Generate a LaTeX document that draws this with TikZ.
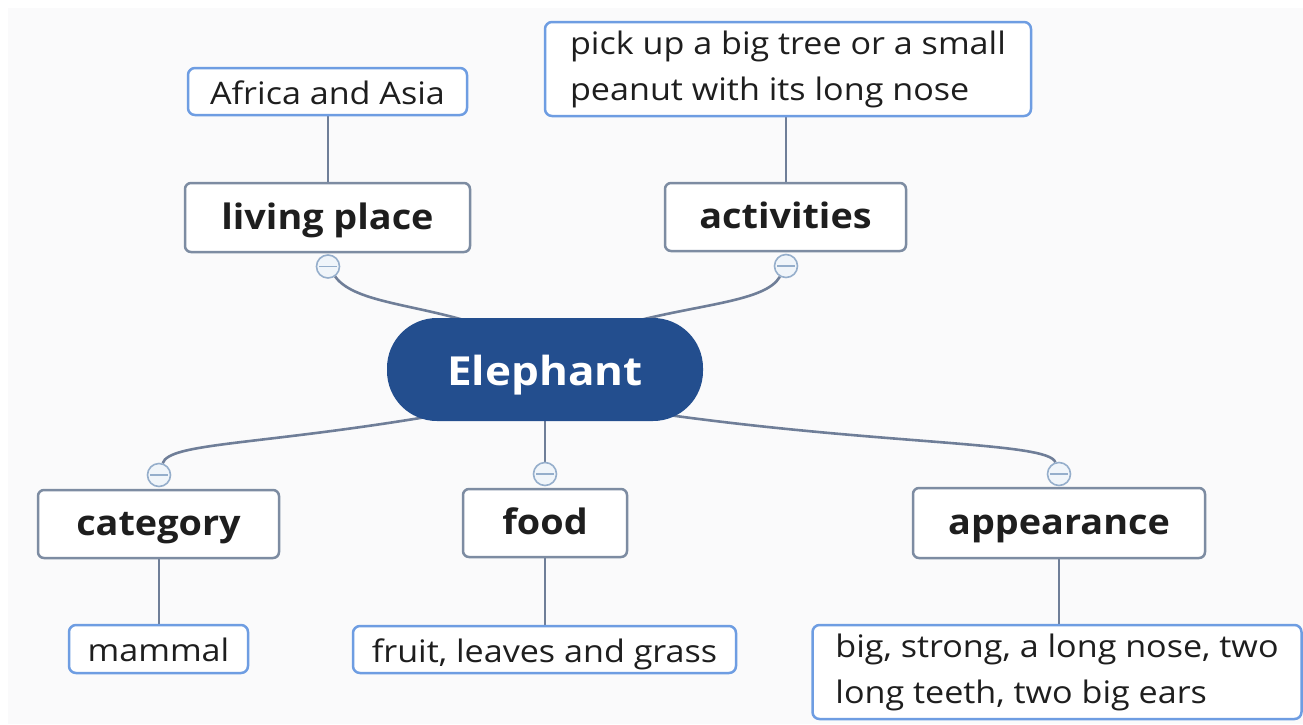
\documentclass[tikz,border=0pt]{standalone}
\usepackage{fontspec}
\setmainfont{Open Sans}
\newfontfamily\regf[FakeStretch=1.1]{Open Sans}
\newfontfamily\topf[FakeStretch=1.08]{Open Sans}
\newfontfamily\elf[FakeStretch=1.1]{Open Sans}
\usetikzlibrary{backgrounds}
\definecolor{bgc}{HTML}{FAFAFB}
\definecolor{topicborder}{HTML}{7D8CA2}
\definecolor{leafborder}{HTML}{6E9DE2}
\definecolor{connc}{HTML}{6F7E98}
\definecolor{elfill}{HTML}{234E8E}
\definecolor{circb}{HTML}{95AECB}
\definecolor{circf}{HTML}{F0F5FA}
\definecolor{txt}{HTML}{1E1E1E}
\tikzset{
  topic/.style={draw=topicborder, line width=2.5pt, rounded corners=6pt, fill=white,
    font=\topf\bfseries\fontsize{35}{42}\selectfont, text=txt, inner sep=0pt,
    text height=26pt, text depth=3pt},
  leaf/.style={draw=leafborder, line width=2.5pt, rounded corners=7pt, fill=white,
    font=\regf\fontsize{31}{46}\selectfont, text=txt, inner sep=0pt, align=left},
  leafone/.style={leaf, text height=28pt, text depth=3pt},
  central/.style={fill=elfill, rounded corners=50pt, text=white,
    font=\elf\bfseries\fontsize{40}{46}\selectfont, inner sep=0pt,
    minimum width=316pt, minimum height=103pt, text height=34pt, text depth=3pt},
  conn/.style={draw=connc, line width=2.6pt},
  collapse/.style={circle, draw=circb, fill=circf, line width=1.6pt, minimum size=23pt, inner sep=0pt,
    path picture={\draw[circb, line width=1.6pt] ([xshift=-9pt]path picture bounding box.center) -- ([xshift=9pt]path picture bounding box.center);}}
}
\begin{document}
\begin{tikzpicture}[x=1pt,y=-1pt]
\useasboundingbox (0,0) rectangle (1303,724);
% central
\node[central] (el) at (545,369.5) {Elephant};
% topics
\node[topic, minimum width=285pt, minimum height=69pt] (lp) at (327.5,217.5) {living place};
\node[topic, minimum width=241pt, minimum height=68pt] (act) at (785.5,217) {activities};
\node[topic, minimum width=241pt, minimum height=68pt] (cat) at (158.5,524) {category};
\node[topic, minimum width=164pt, minimum height=68pt] (food) at (545,523) {food};
\node[topic, minimum width=292pt, minimum height=70pt] (app) at (1059,523) {appearance};
% leaves
\node[leafone, minimum width=279pt, minimum height=47pt] (afr) at (327.5,91.5) {Africa and Asia};
\node[leaf, minimum width=486pt, minimum height=94pt] (pick) at (788,69) {pick up a big tree or a small\\peanut with its long nose};
\node[leafone, minimum width=179pt, minimum height=48pt] (mam) at (158.5,649) {mammal};
\node[leafone, minimum width=383pt, minimum height=47pt] (fruit) at (544.5,649.5) {fruit, leaves and grass};
\node[leaf, minimum width=489pt, minimum height=94pt] (big) at (1057,672) {big, strong, a long nose, two\\long teeth, two big ears};
% collapse buttons
\node[collapse] (lpc) at (328,266.5) {};
\node[collapse] (actc) at (786,266) {};
\node[collapse] (catc) at (159,475) {};
\node[collapse] (foodc) at (545,474) {};
\node[collapse] (appc) at (1059,474) {};
\begin{scope}[on background layer]
  \fill[white] (0,0) rectangle (1303,724);
  \fill[bgc] (8,8) rectangle (1303,724);
  \draw[conn] (afr.south -| lpc) -- (lp.north -| lpc);
  \draw[conn] (pick.south -| actc) -- (act.north -| actc);
  \draw[conn] (cat.south -| catc) -- (mam.north -| catc);
  \draw[conn] (food.south) -- (fruit.north -| food.south);
  \draw[conn] (app.south) -- (big.north -| app.south);
  \draw[conn] (lpc) .. controls +(25,35) and +(-60,-18) .. ([xshift=-75pt,yshift=-4pt]el.north);
  \draw[conn] (actc) .. controls +(-20,35) and +(70,-18) .. ([xshift=88pt,yshift=-4pt]el.north);
  \draw[conn] (catc) .. controls +(10,-32) and +(-170,28) .. ([xshift=-120pt,yshift=4pt]el.south);
  \draw[conn] (foodc) -- (el.south);
  \draw[conn] (appc) .. controls +(-10,-32) and +(220,30) .. ([xshift=125pt,yshift=6pt]el.south);
\end{scope}
\end{tikzpicture}
\end{document}
